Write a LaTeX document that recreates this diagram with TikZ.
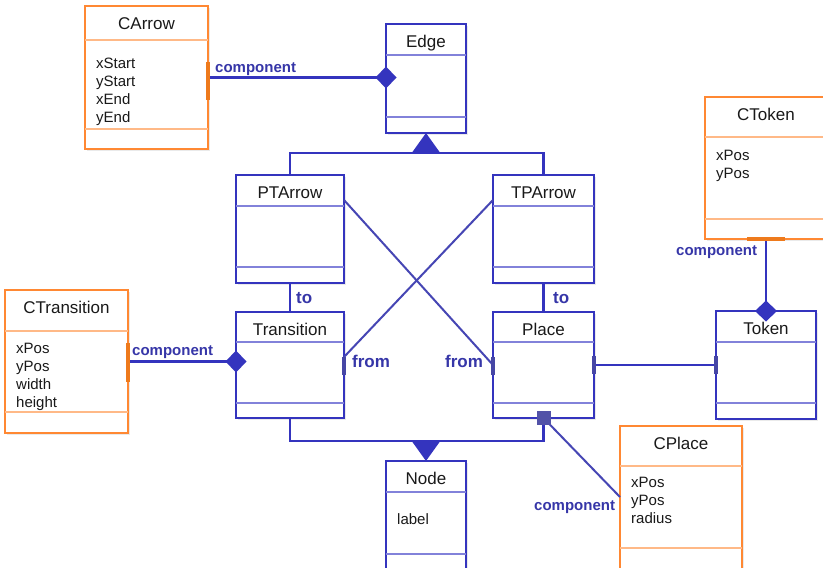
\documentclass[tikz,border=0pt]{standalone}
\usepackage{fontspec}
\setmainfont{Liberation Sans}
\usetikzlibrary{arrows.meta,calc,shadows}

\definecolor{umlblue}{RGB}{52,52,190}
\definecolor{umlbluelight}{RGB}{130,130,218}
\definecolor{umlorange}{RGB}{255,136,51}
\definecolor{umlorangelight}{RGB}{255,185,135}
\definecolor{labelblue}{RGB}{54,54,168}
\definecolor{tickblue}{RGB}{70,70,165}
\definecolor{tickorange}{RGB}{238,122,28}
\definecolor{crossblue}{RGB}{70,70,180}
\definecolor{squarefill}{RGB}{82,82,168}
\definecolor{textgrey}{RGB}{25,25,25}

\tikzset{
  classframe/.style={rectangle, draw=#1, line width=2.4pt, fill=white,
    inner sep=0pt, outer sep=0pt,
    drop shadow={shadow xshift=1.5pt, shadow yshift=-1.5pt, opacity=0.16}},
  separator/.style={draw=#1, line width=1.2pt},
  classtitle/.style={anchor=base, inner sep=0pt, text=textgrey,
    font=\fontsize{17}{20}\selectfont},
  attrs/.style={anchor=north west, align=left, inner sep=0pt, text=textgrey,
    font=\fontsize{15}{18}\selectfont},
  conn/.style={draw=umlblue, line width=2.4pt},
  crossline/.style={draw=crossblue, line width=2pt},
  compdiamond/.style={-{Diamond[length=21pt,width=22pt]}, shorten >=-10.5pt},
  inherit/.style={-{Triangle[length=20pt,width=28pt]}},
  compsquare/.style={rectangle, fill=squarefill, minimum size=14pt, inner sep=0pt},
  endtick/.style={draw=tickblue, line width=3.6pt},
  endtickorange/.style={draw=tickorange, line width=3.6pt},
  complabel/.style={anchor=base west, inner sep=0pt, text=labelblue,
    font=\bfseries\fontsize{15}{18}\selectfont},
  rolelabel/.style={anchor=base west, inner sep=0pt, text=labelblue,
    font=\bfseries\fontsize{17}{20}\selectfont},
}

% class box: name, left, top, right, bottom, header line, operations line, colour, title
\newcommand\umlclass[9]{%
  \node[classframe=#8, minimum width={(#4-#2)*1pt}, minimum height={(#5-#3)*1pt}]
    (#1) at ({(#2+#4)/2},{(#3+#5)/2}) {};
  \draw[separator=#8light] (#2,#6) -- (#4,#6) (#2,#7) -- (#4,#7);
  \node[classtitle] (#1-title) at ({(#2+#4)/2},{#3+23}) {#9};
}

\begin{document}
\begin{tikzpicture}[x=1pt,y=-1pt]
\clip (0,0) rectangle (823,568);
\fill[white] (0,0) rectangle (823,568);

% ---- classes ----
\umlclass{carrow}{85}{6}{208}{149}{40}{129}{umlorange}{CArrow}
\umlclass{edge}{386}{24}{466}{133}{55}{117}{umlblue}{Edge}
\umlclass{ptarrow}{236}{175}{344}{283}{206}{267}{umlblue}{PTArrow}
\umlclass{tparrow}{493}{175}{594}{283}{206}{267}{umlblue}{TPArrow}
\umlclass{ctrans}{5}{290}{128}{433}{331}{412}{umlorange}{CTransition}
\umlclass{transition}{236}{312}{344}{418}{342}{403}{umlblue}{Transition}
\umlclass{place}{493}{312}{594}{418}{342}{403}{umlblue}{Place}
\umlclass{token}{716}{311}{816}{419}{342}{403}{umlblue}{Token}
\umlclass{ctoken}{705}{97}{827}{239}{137}{219}{umlorange}{CToken}
\umlclass{nodecls}{386}{461}{466}{580}{492}{554}{umlblue}{Node}
\umlclass{cplace}{620}{426}{742}{580}{466}{548}{umlorange}{CPlace}

% ---- attributes ----
\node[attrs] (carrow-attrs) at (96,58) {xStart\\yStart\\xEnd\\yEnd};
\node[attrs] (ctrans-attrs) at (16,343) {xPos\\yPos\\width\\height};
\node[attrs] (ctoken-attrs) at (716,150) {xPos\\yPos};
\node[attrs] (cplace-attrs) at (631,477) {xPos\\yPos\\radius};
\node[attrs] (nodecls-attrs) at (397,513) {label};

% ---- generalisation towards Edge ----
\coordinate (gtop) at ($(edge.south)+(0,20)$);
\draw[conn] (ptarrow.north) |- (gtop) -| (tparrow.north);
\draw[conn, inherit] (gtop) -- (edge.south);

% ---- generalisation towards Node ----
\coordinate (gbot) at ($(nodecls.north)+(0,-20)$);
\draw[conn] (transition.south) |- (gbot) -| (place.south);
\draw[conn, inherit] (gbot) -- (nodecls.north);

% ---- arrow ends ----
\draw[conn] (ptarrow.south) -- (transition.north);
\draw[conn] (tparrow.south) -- (place.north);
\draw[crossline] ($(ptarrow.north east)+(0,25)$) -- ($(place.north west)+(0,53)$);
\draw[crossline] ($(tparrow.north west)+(0,25)$) -- ($(transition.north east)+(0,45)$);

% ---- Place -- Token ----
\draw[conn] (place.east) -- (token.west);

% ---- compositions with the view classes ----
\draw[conn, compdiamond] (carrow.east) -- (edge.west |- carrow.east);
\draw[conn, compdiamond] (ctrans.east) -- (transition.west |- ctrans.east);
\draw[conn, compdiamond] (ctoken.south) -- (token.north);
\draw[crossline] (place.south) -- ($(cplace.north west)+(0,71)$);
\node[compsquare] (placesq) at (place.south) {};

% ---- association end marks ----
\draw[endtickorange] ($(carrow.north east)+(0,56)$) -- ++(0,38);
\draw[endtickorange] ($(ctrans.north east)+(0,53)$) -- ++(0,39);
\draw[endtickorange] ($(ctoken.south)+(-19,0)$) -- ++(38,0);
\draw[endtick] ($(transition.north east)+(0,45)$) -- ++(0,18);
\draw[endtick] ($(place.north west)+(0,45)$) -- ++(0,18);
\draw[endtick] ($(place.east)+(0,-9)$) -- ++(0,18);
\draw[endtick] ($(token.west)+(0,-9)$) -- ++(0,18);

% ---- labels ----
\node[complabel] (lbl-carrow) at (215,72) {component};
\node[complabel] (lbl-ctrans) at (132,355) {component};
\node[complabel] (lbl-ctoken) at (676,255) {component};
\node[complabel] (lbl-cplace) at (534,510) {component};
\node[rolelabel] (lbl-to-t) at (296,303) {to};
\node[rolelabel] (lbl-to-p) at (553,303) {to};
\node[rolelabel] (lbl-from-t) at (352,367) {from};
\node[rolelabel] (lbl-from-p) at (445,367) {from};
\end{tikzpicture}
\end{document}
